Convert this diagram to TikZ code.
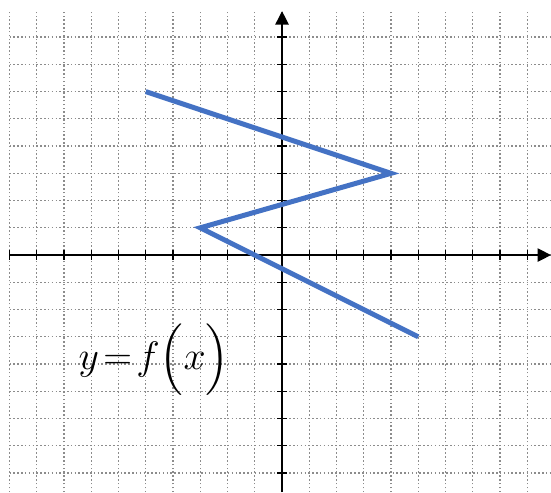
\documentclass[tikz,border=0pt]{standalone}
\usepackage{amsmath}
\usetikzlibrary{arrows.meta}
\definecolor{cgraf}{RGB}{68,114,196}
\definecolor{cgrid}{RGB}{140,140,140}

\begin{document}
\begin{tikzpicture}[x=0.5cm, y=0.5cm, >={Triangle[length=7pt, width=7pt]},
    rejilla/.style={cgrid, dash pattern=on 0.8pt off 1.2pt, line width=0.7pt},
    eje/.style={->, black, line width=0.7pt},
    marca/.style={black, line width=0.7pt},
    grafica/.style={cgraf, line width=2.6pt, line join=miter},
    etiqueta/.style={font=\fontsize{21.5}{26}\selectfont, inner sep=0pt}]

  \useasboundingbox (-10.35,-8.70) rectangle (9.87,9.36);

  % --- rejilla ---
  \foreach \x in {-10,...,9}
    \draw[rejilla] (\x,-8.70) -- (\x,8.95);
  \foreach \y in {-8,...,8}
    \draw[rejilla] (-10,\y) -- (9.87,\y);

  % --- ejes ---
  \coordinate (xizq) at (-10,0);
  \coordinate (xder) at (9.87,0);
  \coordinate (yabj) at (0,-8.70);
  \coordinate (yarr) at (0,8.95);
  \draw[eje] (xizq) -- (xder);
  \draw[eje] (yabj) -- (yarr);
  \foreach \x in {-10,...,9}
    \draw[marca] (\x,-0.17) -- (\x,0.17);
  \foreach \y in {-8,...,8}
    \draw[marca] (-0.17,\y) -- (0.17,\y);

  % --- grafica ---
  \coordinate (p1) at (-5,6);
  \coordinate (p2) at (4,3);
  \coordinate (p3) at (-3,1);
  \coordinate (p4) at (5,-3);
  \draw[grafica] (p1) -- (p2) -- (p3) -- (p4);

  \node[etiqueta] (fx) at (-4.7,-3.85) {$y\!=\!f\Bigl(x\Bigr)$};
\end{tikzpicture}
\end{document}
